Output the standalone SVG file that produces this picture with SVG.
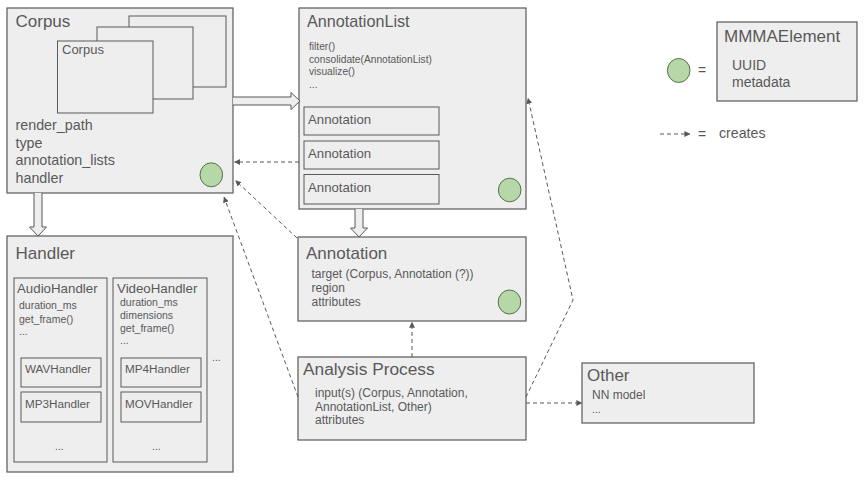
<svg xmlns="http://www.w3.org/2000/svg" width="865" height="480" viewBox="0 0 865 480">
<defs>
<style>
.box{fill:#eeeeee;stroke:#595959;stroke-width:1.2}
.sub{fill:#eeeeee;stroke:#595959;stroke-width:1}
.dot{fill:#b6d7a8;stroke:#55704c;stroke-width:1}
.t{font-family:"Liberation Sans",Arial,sans-serif;fill:#595959}
.h{font-size:17px}
.dash{fill:none;stroke:#595959;stroke-width:1;stroke-dasharray:4 3;marker-end:url(#ah)}
.fat{fill:#eeeeee;stroke:#595959;stroke-width:1}
</style>
<marker id="ah" viewBox="0 0 8 8" refX="7.5" refY="4" markerWidth="6" markerHeight="6" markerUnits="userSpaceOnUse" orient="auto">
<path d="M0,0 L8,4 L0,8 z" fill="#595959"/>
</marker>
</defs>
<rect width="865" height="480" fill="#ffffff"/>

<g id="corpus">
<rect class="box" x="7" y="8" width="226" height="185"/>
<text class="t h" x="15.5" y="27">Corpus</text>
<rect class="sub" x="129" y="16" width="97" height="71"/>
<rect class="sub" x="97" y="27" width="96" height="72"/>
<rect class="sub" x="57.5" y="41" width="95.5" height="72"/>
<text class="t" x="62" y="54" font-size="13">Corpus</text>
<text class="t" x="15.5" y="130" font-size="14.3">render_path</text>
<text class="t" x="15.5" y="147.5" font-size="14.3">type</text>
<text class="t" x="15.5" y="165" font-size="14.3">annotation_lists</text>
<text class="t" x="15.5" y="182.5" font-size="14.3">handler</text>
<ellipse class="dot" cx="211.3" cy="174.8" rx="11.3" ry="12"/>
</g>

<g id="annotationlist">
<rect class="box" x="299" y="8" width="227" height="201"/>
<text class="t" x="307" y="27" font-size="16.2">AnnotationList</text>
<text class="t" x="309" y="50" font-size="10.2">filter()</text>
<text class="t" x="309" y="62.7" font-size="10.2">consolidate(AnnotationList)</text>
<text class="t" x="309" y="75.4" font-size="10.2">visualize()</text>
<text class="t" x="309" y="88" font-size="10.2">...</text>
<rect class="sub" x="304" y="107" width="135" height="28"/>
<text class="t" x="308" y="124" font-size="13.2">Annotation</text>
<rect class="sub" x="304" y="141" width="135" height="28"/>
<text class="t" x="308" y="158" font-size="13.2">Annotation</text>
<rect class="sub" x="304" y="174.5" width="135" height="29.5"/>
<text class="t" x="308" y="192" font-size="13.2">Annotation</text>
<ellipse class="dot" cx="509.7" cy="190" rx="11.3" ry="11.8"/>
</g>

<g id="mmmaelement">
<rect class="box" x="717" y="22" width="140" height="79"/>
<text class="t h" x="724" y="41.5">MMMAElement</text>
<text class="t" x="732" y="70" font-size="14">UUID</text>
<text class="t" x="732" y="87" font-size="14">metadata</text>
</g>

<g id="legend">
<ellipse class="dot" cx="678.7" cy="70.5" rx="11.3" ry="12"/>
<text class="t" x="698" y="75" font-size="14">=</text>
<path class="dash" d="M660,134 L690,134" stroke-dasharray="3 2.5"/>
<text class="t" x="698" y="138.5" font-size="14">=</text>
<text class="t" x="719" y="138" font-size="14.2">creates</text>
</g>

<g id="handler">
<rect class="box" x="7" y="236" width="226" height="236"/>
<text class="t h" x="15.5" y="259">Handler</text>
<rect class="sub" x="14" y="278" width="93" height="184"/>
<text class="t" x="17" y="292.7" font-size="13.3">AudioHandler</text>
<text class="t" x="19" y="309" font-size="10.5">duration_ms</text>
<text class="t" x="19" y="322.5" font-size="10.5">get_frame()</text>
<text class="t" x="19" y="334.5" font-size="10.5">...</text>
<rect class="sub" x="21" y="358" width="80" height="29"/>
<text class="t" x="25" y="373.3" font-size="11.7">WAVHandler</text>
<rect class="sub" x="21" y="392" width="80" height="30"/>
<text class="t" x="25" y="408.3" font-size="11.7">MP3Handler</text>
<text class="t" x="55" y="450" font-size="10.5">...</text>
<rect class="sub" x="113" y="278" width="94" height="184"/>
<text class="t" x="117" y="292.7" font-size="13.3">VideoHandler</text>
<text class="t" x="120" y="306" font-size="10.5">duration_ms</text>
<text class="t" x="120" y="319" font-size="10.5">dimensions</text>
<text class="t" x="120" y="331.5" font-size="10.5">get_frame()</text>
<text class="t" x="120" y="344" font-size="10.5">...</text>
<rect class="sub" x="121" y="358" width="80" height="29"/>
<text class="t" x="125" y="373.3" font-size="11.7">MP4Handler</text>
<rect class="sub" x="121" y="392" width="80" height="30"/>
<text class="t" x="125" y="408.3" font-size="11.7">MOVHandler</text>
<text class="t" x="152" y="450" font-size="10.5">...</text>
<text class="t" x="212" y="361" font-size="10.5">...</text>
</g>

<g id="annotation">
<rect class="box" x="298" y="237" width="228" height="84"/>
<text class="t h" x="306" y="259">Annotation</text>
<text class="t" x="311.5" y="278" font-size="12">target (Corpus, Annotation (?))</text>
<text class="t" x="311.5" y="292" font-size="12">region</text>
<text class="t" x="311.5" y="306" font-size="12">attributes</text>
<ellipse class="dot" cx="509.5" cy="302" rx="11.3" ry="12"/>
</g>

<g id="analysis">
<rect class="box" x="298" y="357" width="228" height="83"/>
<text class="t" x="303" y="375" font-size="17.3">Analysis Process</text>
<text class="t" x="315" y="397" font-size="12">input(s) (Corpus, Annotation,</text>
<text class="t" x="315" y="410.5" font-size="12">AnnotationList, Other)</text>
<text class="t" x="315" y="424" font-size="12">attributes</text>
</g>

<g id="other">
<rect class="box" x="582" y="363" width="172" height="60"/>
<text class="t h" x="587" y="380.5">Other</text>
<text class="t" x="592" y="399" font-size="12">NN model</text>
<text class="t" x="592" y="413" font-size="10.5">...</text>
</g>

<g id="connectors">
<path class="fat" d="M233,97 L291,97 L291,92.5 L300,101 L291,109.5 L291,105 L233,105"/>
<path class="fat" d="M34,193 L34,227 L29.5,227 L38,236 L46.5,227 L42,227 L42,193"/>
<path class="fat" d="M355,209 L355,228 L350.5,228 L359,237 L367.5,228 L363,228 L363,209"/>
<path class="dash" d="M299,162 L234.5,162"/>
<path class="dash" d="M297,238 L235.5,180.5"/>
<path class="dash" d="M298,397 L224,197"/>
<path class="dash" d="M412,357 L412,322"/>
<path class="dash" d="M526,403 L582,403"/>
<path class="dash" d="M526,397 L573,300 L528,98"/>
</g>
</svg>
